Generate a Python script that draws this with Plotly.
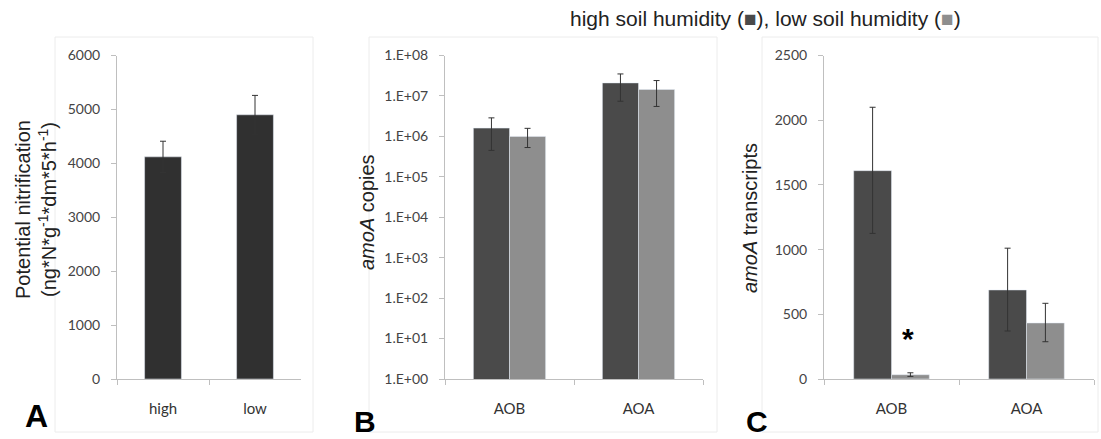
import plotly.graph_objects as go

W, H = 1101, 439

# ---------------- data ----------------
a_categories = ["high", "low"]
a_values = [4120, 4900]
a_err = [290, 360]

b_categories = ["AOB", "AOA"]
b_high = [1.6e6, 2.1e7]
b_high_err_plus = [1.27e6, 1.4e7]
b_high_err_minus = [1.15e6, 1.36e7]
b_low = [1.0e6, 1.44e7]
b_low_err_plus = [0.58e6, 0.96e7]
b_low_err_minus = [0.47e6, 0.89e7]
b_tickvals = [1, 1e1, 1e2, 1e3, 1e4, 1e5, 1e6, 1e7, 1e8]
b_ticktext = ["1.E+00", "1.E+01", "1.E+02", "1.E+03", "1.E+04",
              "1.E+05", "1.E+06", "1.E+07", "1.E+08"]

c_categories = ["AOB", "AOA"]
c_high = [1610, 688]
c_high_err_plus = [490, 323]
c_high_err_minus = [485, 317]
c_low = [33, 433]
c_low_err_plus = [15, 152]
c_low_err_minus = [13, 145]

# ---------------- styling ----------------
DARK_A = "#303030"
DARK = "#4a4a4a"
LIGHT = "#8e8e8e"
AXIS = "#bfbfbf"
TICKFONT = dict(family="Lato, Liberation Sans, sans-serif", size=14, color="#444444")
TITLEFONT = dict(family="Liberation Sans, Arial, sans-serif", size=20, color="#222222")

def px(x):
    return x / W

def py(y):
    return 1 - y / H

err_style = dict(color="#333333", thickness=1, width=3)

fig = go.Figure()

fig.add_trace(go.Bar(x=a_categories, y=a_values, marker_color=DARK_A, width=0.4,
                     error_y=dict(type="data", array=a_err, **err_style),
                     xaxis="x", yaxis="y", showlegend=False))

fig.add_trace(go.Bar(x=b_categories, y=b_high, marker_color=DARK,
                     error_y=dict(type="data", symmetric=False, array=b_high_err_plus,
                                  arrayminus=b_high_err_minus, **err_style),
                     xaxis="x2", yaxis="y2", showlegend=False))
fig.add_trace(go.Bar(x=b_categories, y=b_low, marker_color=LIGHT,
                     error_y=dict(type="data", symmetric=False, array=b_low_err_plus,
                                  arrayminus=b_low_err_minus, **err_style),
                     xaxis="x2", yaxis="y2", showlegend=False))

fig.add_trace(go.Bar(x=c_categories, y=c_high, marker_color=DARK,
                     error_y=dict(type="data", symmetric=False, array=c_high_err_plus,
                                  arrayminus=c_high_err_minus, **err_style),
                     xaxis="x3", yaxis="y3", showlegend=False))
fig.add_trace(go.Bar(x=c_categories, y=c_low, marker_color=LIGHT,
                     error_y=dict(type="data", symmetric=False, array=c_low_err_plus,
                                  arrayminus=c_low_err_minus, **err_style),
                     xaxis="x3", yaxis="y3", showlegend=False))

y_dom = [py(379), py(55.5)]

def xax(dom):
    return dict(domain=dom, range=[-0.5, 1.5], showline=True, linecolor=AXIS, linewidth=1,
                ticks="outside", tickson="boundaries", ticklen=5, tickcolor=AXIS,
                tickfont=dict(family="Lato, Liberation Sans, sans-serif", size=15, color="#333333"),
                ticklabelstandoff=16, showgrid=False, zeroline=False, fixedrange=True,
                automargin=False)

def yax(anchor, **kw):
    d = dict(domain=y_dom, anchor=anchor, showline=True, linecolor=AXIS, linewidth=1,
             ticks="outside", ticklen=5, tickcolor=AXIS, tickfont=TICKFONT,
             ticklabelstandoff=8, showgrid=False, zeroline=False, fixedrange=True,
             automargin=False)
    d.update(kw)
    return d

fig.update_layout(
    width=W, height=H,
    margin=dict(l=0, r=0, t=0, b=0, pad=0, autoexpand=False),
    paper_bgcolor="white", plot_bgcolor="white",
    barmode="group", bargap=0.44, bargroupgap=0,
    xaxis=dict(xax([px(117), px(301)]), anchor="y"),
    yaxis=yax("x", range=[0, 6000], tickvals=[0, 1000, 2000, 3000, 4000, 5000, 6000]),
    xaxis2=dict(xax([px(445), px(703)]), anchor="y2"),
    yaxis2=yax("x2", type="log", range=[0, 8], tickvals=b_tickvals, ticktext=b_ticktext),
    xaxis3=dict(xax([px(824), px(1094)]), anchor="y3"),
    yaxis3=yax("x3", range=[0, 2500], tickvals=[0, 500, 1000, 1500, 2000, 2500]),
)

# faint panel borders
for x0, x1 in [(55, 313), (369, 717), (762, 1098)]:
    fig.add_shape(type="rect", xref="paper", yref="paper",
                  x0=px(x0), x1=px(x1), y0=py(432), y1=py(37),
                  line=dict(color="#ececec", width=1), fillcolor="rgba(0,0,0,0)", layer="below")

annotations = [
    dict(text="Potential nitrification", x=px(23), y=py(210), textangle=-90,
         font=TITLEFONT),
    dict(text="(ng*N*g<sup>-1</sup>*dm*5*h<sup>-1</sup>)", x=px(48), y=py(210), textangle=-90,
         font=TITLEFONT),
    dict(text="<i>amoA</i> copies", x=px(367), y=py(212), textangle=-90, font=TITLEFONT),
    dict(text="<i>amoA</i> transcripts", x=px(750), y=py(218), textangle=-90, font=TITLEFONT),
    dict(text='high soil humidity (<span style="color:%s">■</span>), low soil humidity (<span style="color:%s">■</span>)' % (DARK, LIGHT),
         x=px(568), y=py(19), xanchor="left", font=dict(family="Liberation Sans, Arial", size=21, color="#222222")),
]
for a in annotations:
    a.setdefault("xanchor", "center")
    a.update(xref="paper", yref="paper", yanchor="middle", showarrow=False)
    fig.add_annotation(**a)

# panel letters
for letter, xc, ybot, size in [("A", 37, 435, 32), ("B", 365, 439, 30), ("C", 757, 439, 30)]:
    fig.add_annotation(text="<b>%s</b>" % letter, x=px(xc), y=py(ybot), xref="paper", yref="paper",
                       xanchor="center", yanchor="bottom", showarrow=False, borderpad=0,
                       font=dict(family="Liberation Sans, Arial", size=size, color="black"))

# significance star
fig.add_annotation(text="<b>*</b>", x=0.122, y=310, xref="x3", yref="y3", showarrow=False,
                   font=dict(family="Liberation Sans, Arial", size=30, color="black"))

fig.write_html("out.html")
